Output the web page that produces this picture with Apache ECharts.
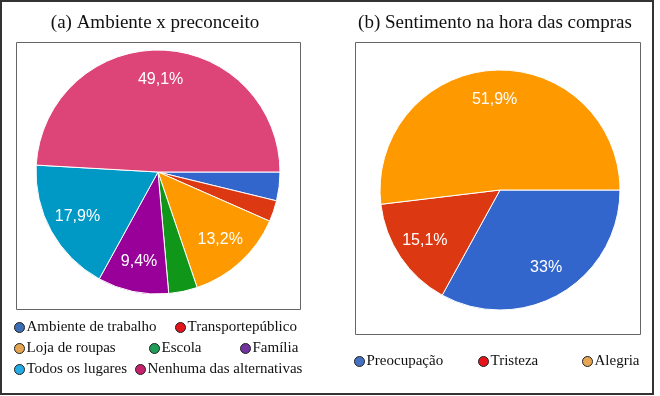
<!DOCTYPE html>
<html>
<head>
<meta charset="utf-8">
<script src="https://cdn.jsdelivr.net/npm/echarts@6/dist/echarts.min.js"></script>
<style>
  html, body { margin: 0; padding: 0; background: #fff; }
  #main { width: 660px; height: 396px; }
</style>
</head>
<body>
<div id="main"></div>
<script>
// (a) Ambiente x preconceito  -- percentages
const ambienteNames = ['Ambiente de trabalho', 'Transportepúblico', 'Loja de roupas', 'Escola', 'Família', 'Todos os lugares', 'Nenhuma das alternativas'];
const ambienteValues = [3.8, 2.8, 13.2, 3.8, 9.4, 17.9, 49.1];
const ambienteColors = ['#3366cc', '#dc3912', '#ff9900', '#109618', '#990099', '#0099c6', '#dd4477'];
const ambienteLegendColors = ['#3c6db5', '#e3141c', '#e4a452', '#1f9c55', '#7232a0', '#21ace6', '#c4226a'];

// (b) Sentimento na hora das compras
const sentimentoNames = ['Preocupação', 'Tristeza', 'Alegria'];
const sentimentoValues = [33, 15.1, 51.9];
const sentimentoColors = ['#3366cc', '#dc3912', '#ff9900'];
const sentimentoLegendColors = ['#4471c2', '#e5141a', '#e6a653'];

const chart = echarts.init(document.getElementById('main'));

// 49.1 -> "49,1%", 33 -> "33%"
function pct(v) {
    return String(Math.round(v * 10) / 10).replace('.', ',') + '%';
}

function pieData(names, values, colors) {
    return names.map((n, i) => ({ name: n, value: values[i], itemStyle: { color: colors[i] } }));
}

// one legend per item so each can sit where it is in the picture
function leg(name, color, x, y) {
    return {
        data: [{ name: name, itemStyle: { color: color, borderColor: '#222', borderWidth: 1 } }],
        left: x, top: y,
        padding: 0,
        icon: 'circle',
        itemWidth: 10, itemHeight: 11,
        selectedMode: false,
        textStyle: { fontFamily: 'Liberation Serif', fontSize: 15, color: '#111', padding: [0, 0, 0, -3] }
    };
}

// the pie itself (no labels)
function pieSeries(data, cx, cy, r) {
    return {
        type: 'pie',
        center: [cx, cy],
        radius: [0, r],
        startAngle: 0,
        data: data,
        label: { show: false },
        labelLine: { show: false },
        itemStyle: { borderColor: '#fff', borderWidth: 1 },
        emphasis: { disabled: true },
        animation: false
    };
}

// transparent ring on top, only to place the labels further out like Google charts
function labelSeries(data, cx, cy, r) {
    return {
        type: 'pie',
        center: [cx, cy],
        radius: [r * 0.46, r],
        startAngle: 0,
        silent: true,
        data: data.map(d => ({ name: d.name, value: d.value, itemStyle: { color: 'rgba(0,0,0,0)' } })),
        label: {
            show: true,
            position: 'inside',
            formatter: p => (p.value < 5 ? '' : pct(p.value)),
            color: '#fff',
            fontFamily: 'Liberation Sans',
            fontSize: 16
        },
        labelLine: { show: false },
        itemStyle: { borderWidth: 0 },
        emphasis: { disabled: true },
        animation: false
    };
}

const dataA = pieData(ambienteNames, ambienteValues, ambienteColors);
const dataB = pieData(sentimentoNames, sentimentoValues, sentimentoColors);

// legend marker positions (left, top)
const legPosA = [[14, 320], [175, 320], [14, 341], [149, 341], [240, 341], [14, 362], [135, 362]];
const legPosB = [[354, 354], [478, 354], [582, 354]];

const legends = [];
ambienteNames.forEach((n, i) => legends.push(leg(n, ambienteLegendColors[i], legPosA[i][0], legPosA[i][1])));
sentimentoNames.forEach((n, i) => legends.push(leg(n, sentimentoLegendColors[i], legPosB[i][0], legPosB[i][1])));

const option = {
    backgroundColor: '#fff',
    title: [
        {
            text: '(a) Ambiente x preconceito',
            left: 150, top: 9, textAlign: 'center',
            textStyle: { fontFamily: 'Liberation Serif', fontSize: 19, fontWeight: 'normal', color: '#111' }
        },
        {
            text: '(b) Sentimento na hora das compras',
            left: 490, top: 9, textAlign: 'center',
            textStyle: { fontFamily: 'Liberation Serif', fontSize: 19, fontWeight: 'normal', color: '#111' }
        }
    ],
    legend: legends,
    graphic: [
        { type: 'rect', shape: { x: 1, y: 1, width: 652, height: 393 }, style: { fill: 'none', stroke: '#333', lineWidth: 2 }, silent: true },
        { type: 'rect', shape: { x: 16.5, y: 42.5, width: 284, height: 267 }, style: { fill: 'none', stroke: '#666', lineWidth: 1 }, silent: true },
        { type: 'rect', shape: { x: 355.5, y: 42.5, width: 285, height: 292 }, style: { fill: 'none', stroke: '#666', lineWidth: 1 }, silent: true }
    ],
    series: [
        pieSeries(dataA, 158, 172, 122),
        labelSeries(dataA, 158, 172, 122),
        pieSeries(dataB, 500, 190, 120),
        labelSeries(dataB, 500, 190, 120)
    ]
};

chart.setOption(option);
</script>
</body>
</html>
